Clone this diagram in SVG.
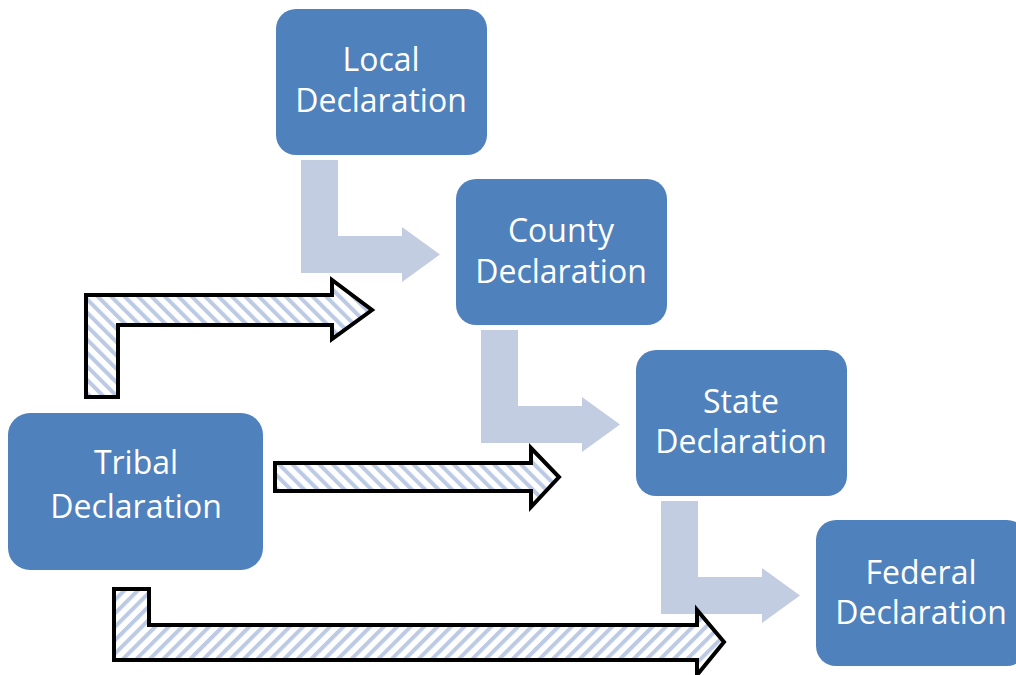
<svg xmlns="http://www.w3.org/2000/svg" width="1016" height="675" viewBox="0 0 1016 675">
<style>
.box{fill:#4f81bd;}
.lbl{fill:#ffffff;font-family:"Open Sans","Liberation Sans",sans-serif;font-size:32px;text-anchor:middle;}
.flow{fill:#c3cde1;}
.hatch{stroke:#000000;stroke-width:4;stroke-linejoin:miter;}
</style>
<defs>
<pattern id="hatchA" patternUnits="userSpaceOnUse" width="9.5" height="9.5" patternTransform="rotate(-45)">
<rect width="9.5" height="9.5" fill="#ffffff"/>
<rect x="0" y="0" width="4" height="9.5" fill="#bccae3"/>
</pattern>
<pattern id="hatchB" patternUnits="userSpaceOnUse" width="9.5" height="9.5" patternTransform="rotate(45)">
<rect width="9.5" height="9.5" fill="#ffffff"/>
<rect x="0" y="0" width="4" height="9.5" fill="#bccae3"/>
</pattern>
</defs>
<rect width="1016" height="675" fill="#ffffff"/>
<g id="connectors">
<polygon class="flow" points="301,160 338,160 338,236 402,236 402,227 440,254.5 402,282 402,273 301,273"/>
<polygon class="flow" points="481,330 518,330 518,406 582,406 582,397 620,424.5 582,452 582,443 481,443"/>
<polygon class="flow" points="661,501 698,501 698,577 762,577 762,568 800,595.5 762,623 762,614 661,614"/>
<polygon class="hatch" fill="url(#hatchA)" points="86,397 86,295 332,295 332,280 372,310 332,339 332,325 118,325 118,397"/>
<polygon class="hatch" fill="url(#hatchA)" points="275,463 531,463 531,448 559,477 531,507 531,491 275,491"/>
<polygon class="hatch" fill="url(#hatchB)" points="114,589 149,589 149,625 697,625 697,610 724,642 697,675 697,660 114,660"/>
</g>
<g id="local">
<rect class="box" x="276" y="9" width="211" height="146" rx="20"/>
<text class="lbl" x="381" y="71">Local</text>
<text class="lbl" x="381" y="112">Declaration</text>
</g>
<g id="county">
<rect class="box" x="456" y="179" width="211" height="146" rx="20"/>
<text class="lbl" x="561" y="242">County</text>
<text class="lbl" x="561" y="283">Declaration</text>
</g>
<g id="state">
<rect class="box" x="636" y="350" width="211" height="146" rx="20"/>
<text class="lbl" x="741" y="413">State</text>
<text class="lbl" x="741" y="453">Declaration</text>
</g>
<g id="federal">
<rect class="box" x="816" y="520" width="211" height="146" rx="20"/>
<text class="lbl" x="921" y="584">Federal</text>
<text class="lbl" x="921" y="624">Declaration</text>
</g>
<g id="tribal">
<rect class="box" x="8" y="413" width="255" height="157" rx="22"/>
<text class="lbl" x="136" y="474">Tribal</text>
<text class="lbl" x="136" y="518">Declaration</text>
</g>
</svg>
